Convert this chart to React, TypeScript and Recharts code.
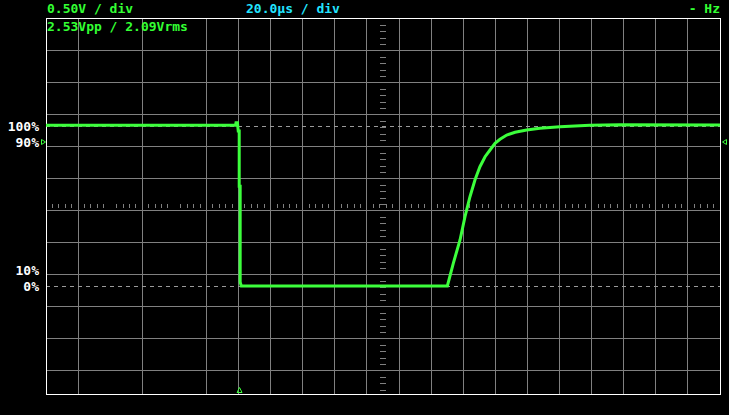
import React from 'react';
import {
  LineChart,
  Line,
  XAxis,
  YAxis,
  CartesianGrid,
  ReferenceLine,
  ReferenceArea,
  ReferenceDot,
} from 'recharts';

// trace: time in µs from screen centre, volts above the 0% level
const timeUs = [
  -210, -91.9, -91.6, -90.7, -90.2, -89.6, -89.6, -89.0, -89.0, -88.3,
  40.1, 43.8, 48.0, 51.1, 54.2, 57.3, 60.4, 63.6, 66.7, 69.8,
  72.9, 77.1, 82.3, 89.5, 97.8, 110.3, 129.0, 147.7, 210,
];
const volts = [
  2.51, 2.51, 2.55, 2.55, 2.42, 2.42, 1.56, 1.56, 0.06, 0.0,
  0.0, 0.355, 0.719, 1.083, 1.395, 1.656, 1.864, 2.02, 2.125, 2.23,
  2.292, 2.359, 2.402, 2.438, 2.464, 2.489, 2.511, 2.52, 2.515,
];

// screen graticule
const gridTimes = [-190, -170, -150, -130, -110, -90, -70, -50, -30, -10, 10, 30, 50, 70, 90, 110, 130, 150, 170, 190];
const gridVolts = [-1.328, -0.828, -0.328, 0.172, 0.672, 1.172, 1.672, 2.172, 2.672, 3.172, 3.672, 4.172];
const dashedVolts = [0, 2.5];

// level labels on the left
const levelVolts = [0, 0.25, 2.25, 2.5];
const levelNames = ['0%', '10%', '90%', '100%'];

const triggerTime = -89.4;
const markerLevel = 2.25;

const scaleText = '0.50V / div';
const timeText = '20.0µs / div';
const freqText = '- Hz';
const measText = '2.53Vpp / 2.09Vrms';

const Y_MIN = -1.6875;
const Y_MAX = 4.1875;
const CENTER_V = 1.25;

const GREEN = '#3cff3c';
const GRID = '#808080';
const FONT = '"DejaVu Sans Mono", monospace';

const trace = timeUs.map((t, i) => ({ t, v: volts[i] }));

// minor ticks on the centre cross-hair, five per division
const rowTicks: number[] = [];
for (let t = -206; t <= 206; t += 4) if (!gridTimes.includes(t)) rowTicks.push(t);
const colTicks: number[] = [];
for (let k = -18; k <= 40; k++) {
  const v = Math.round((0.172 + k * 0.1) * 1000) / 1000;
  if (v > Y_MIN && v < Y_MAX && !gridVolts.includes(v)) colTicks.push(v);
}

const LevelMarks = (props: any) => {
  const { x, y, width } = props.viewBox;
  const r = x + width;
  return (
    <g fill="none" stroke={GREEN} strokeWidth={1}>
      <polygon points={`${x - 4.5},${y - 2.5} ${x - 4.5},${y + 2.5} ${x - 0.5},${y}`} />
      <polygon points={`${r + 6.5},${y - 2.5} ${r + 6.5},${y + 2.5} ${r + 2.5},${y}`} />
    </g>
  );
};

const TriggerMark = (props: any) => {
  const { cx, cy } = props;
  return (
    <polygon
      points={`${cx},${cy - 6.5} ${cx - 2.5},${cy - 1.5} ${cx + 2.5},${cy - 1.5}`}
      fill="none"
      stroke={GREEN}
      strokeWidth={1}
    />
  );
};

export default function App() {
  return (
    <div style={{ position: 'fixed', left: 0, top: 0, width: 729, height: 415, background: '#000' }}>
      <LineChart width={729} height={415} data={trace} margin={{ top: 18, right: 9, bottom: 21, left: 0 }}>
        <XAxis type="number" dataKey="t" domain={[-210, 210]} ticks={gridTimes} hide allowDataOverflow />
        <YAxis
          yAxisId="pct"
          type="number"
          domain={[Y_MIN, Y_MAX]}
          ticks={levelVolts}
          interval={0}
          width={46}
          allowDataOverflow
          axisLine={false}
          tickLine={false}
          tickSize={0}
          tickMargin={7}
          tick={{ fill: '#ffffff', fontSize: 13, fontFamily: FONT, fontWeight: 'bold' }}
          tickFormatter={(v: number) => levelNames[levelVolts.indexOf(v)] ?? ''}
        />
        <YAxis yAxisId="grid" type="number" domain={[Y_MIN, Y_MAX]} ticks={gridVolts} width={0} hide allowDataOverflow />
        <YAxis yAxisId="ref" type="number" domain={[Y_MIN, Y_MAX]} ticks={dashedVolts} width={0} hide allowDataOverflow />
        <CartesianGrid yAxisId="grid" stroke={GRID} shapeRendering="crispEdges" />
        <CartesianGrid yAxisId="ref" vertical={false} stroke="#9a9a9a" strokeDasharray="4 4" shapeRendering="crispEdges" />

        {rowTicks.map((t) => (
          <ReferenceLine
            key={'r' + t}
            yAxisId="grid"
            segment={[{ x: t, y: CENTER_V - 0.039 }, { x: t, y: CENTER_V + 0.039 }]}
            stroke={GRID}
            shapeRendering="crispEdges"
          />
        ))}
        {colTicks.map((v) => (
          <ReferenceLine
            key={'c' + v}
            yAxisId="grid"
            segment={[{ x: -1.7, y: v }, { x: 1.7, y: v }]}
            stroke={GRID}
            shapeRendering="crispEdges"
          />
        ))}

        <Line
          yAxisId="pct"
          type="linear"
          dataKey="v"
          stroke={GREEN}
          strokeWidth={3}
          dot={false}
          isAnimationActive={false}
        />

        <ReferenceLine yAxisId="pct" y={markerLevel} stroke="none" label={LevelMarks} />
        <ReferenceDot yAxisId="pct" x={triggerTime} y={Y_MIN} ifOverflow="visible" shape={TriggerMark} />
        <ReferenceArea
          yAxisId="grid"
          x1={-210}
          x2={210}
          y1={Y_MIN}
          y2={Y_MAX}
          fill="none"
          fillOpacity={0}
          stroke="#ffffff"
          strokeOpacity={1}
          shapeRendering="crispEdges"
        />
      </LineChart>

      <svg
        width={729}
        height={415}
        style={{ position: 'absolute', left: 0, top: 0, pointerEvents: 'none' }}
        fontFamily={FONT}
        fontSize={13}
        fontWeight="bold"
      >
        <text x={47} y={13} fill="#33ff33">{scaleText}</text>
        <text x={246} y={13} fill="#22e4ff">{timeText}</text>
        <text x={720} y={13} fill="#33ff33" textAnchor="end">{freqText}</text>
        <text x={47} y={31} fill="#33ff33">{measText}</text>
      </svg>
    </div>
  );
}
